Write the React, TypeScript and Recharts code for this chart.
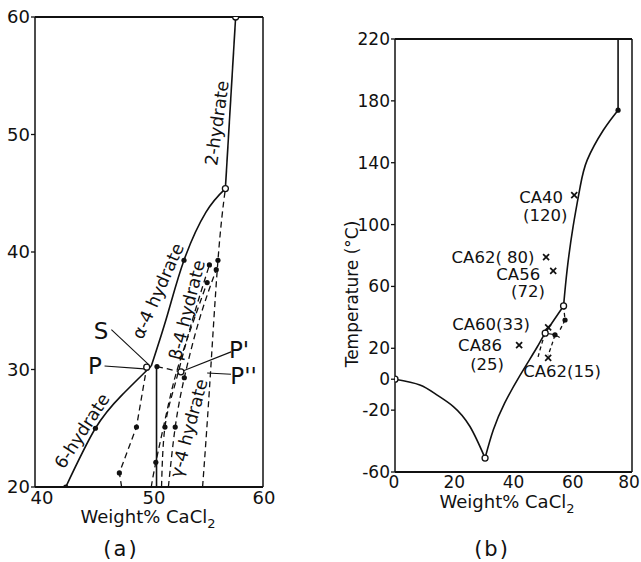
import React from 'react';
import { ComposedChart, Line, Scatter, XAxis, YAxis, ReferenceLine, Label } from 'recharts';

// ---------- Panel (a): 20–60 °C, 40–60 wt% CaCl2 ----------
const aXTicks = [40, 50, 60];
const aYTicks = [20, 30, 40, 50, 60];

const aHexahydrate = [
  { x: 42.7, y: 20 }, { x: 45.3, y: 25 }, { x: 47.6, y: 27.8 }, { x: 50.2, y: 30.3 },
];
const aAlpha4 = [
  { x: 50.2, y: 30.3 }, { x: 51.6, y: 34.6 }, { x: 53.07, y: 39.3 }, { x: 55.0, y: 43.4 },
  { x: 56.7, y: 45.4 },
];
const aDihydrate = [{ x: 56.7, y: 45.4 }, { x: 57.6, y: 60 }];
const aCongruent = [{ x: 50.66, y: 20 }, { x: 50.66, y: 30.3 }];

const aDash1 = [{ x: 47.6, y: 20 }, { x: 47.4, y: 21.2 }, { x: 48.9, y: 25.1 }, { x: 49.8, y: 30.2 }];
const aDashSP = [{ x: 50.7, y: 30.25 }, { x: 52.8, y: 29.8 }];
const aDash2 = [
  { x: 50.2, y: 20 }, { x: 50.6, y: 22.1 }, { x: 51.7, y: 27.0 }, { x: 52.8, y: 31.0 },
  { x: 55.1, y: 37.4 },
];
const aDash3 = [
  { x: 51.1, y: 20 }, { x: 51.4, y: 25.1 }, { x: 52.3, y: 28.8 }, { x: 53.6, y: 33.5 },
  { x: 55.3, y: 38.9 },
];
const aDash4 = [
  { x: 51.7, y: 20 }, { x: 52.3, y: 25.1 }, { x: 53.1, y: 29.3 }, { x: 54.4, y: 34.2 },
  { x: 55.9, y: 38.5 },
];
const aDash5 = [{ x: 54.7, y: 20 }, { x: 55.3, y: 28.3 }, { x: 56.05, y: 39.3 }, { x: 56.7, y: 45.4 }];

const aFilledDots = [
  { x: 42.7, y: 20 }, { x: 45.3, y: 25 }, { x: 47.4, y: 21.2 }, { x: 48.9, y: 25.1 },
  { x: 50.6, y: 22.1 }, { x: 51.4, y: 25.1 }, { x: 52.3, y: 25.1 }, { x: 53.1, y: 29.3 },
  { x: 53.07, y: 39.3 }, { x: 50.7, y: 30.25 }, { x: 55.1, y: 37.4 }, { x: 55.3, y: 38.9 },
  { x: 55.9, y: 38.5 }, { x: 56.05, y: 39.3 },
];
const aOpenDots = [{ x: 49.8, y: 30.2 }, { x: 52.8, y: 29.8 }, { x: 56.7, y: 45.4 }, { x: 57.6, y: 60 }];

const aPhaseLabels = [
  { text: '2-hydrate', x: 55.96, y: 50.98 },
  { text: 'α-4 hydrate', x: 50.79, y: 36.68 },
  { text: 'β-4 hydrate', x: 53.33, y: 35.06 },
  { text: 'γ-4 hydrate', x: 53.5, y: 25.0 },
  { text: '6-hydrate', x: 44.12, y: 24.77 },
];
const aPointLabels = [
  { text: 'S', x: 45.8, y: 33.3 },
  { text: 'P', x: 45.26, y: 30.3 },
  { text: "P'", x: 57.9, y: 31.66 },
  { text: "P''", x: 58.3, y: 29.45 },
];
const aLeaderS = [{ x: 46.7, y: 33.4 }, { x: 50.0, y: 30.4 }];
const aLeaderP = [{ x: 46.1, y: 30.3 }, { x: 49.6, y: 30.05 }];
const aLeaderP1 = [{ x: 57.2, y: 31.5 }, { x: 52.8, y: 29.8 }];
const aLeaderP2 = [{ x: 57.2, y: 29.6 }, { x: 55.1, y: 29.7 }];

// ---------- Panel (b): -60–220 °C, 0–80 wt% CaCl2 ----------
const bXTicks = [0, 20, 40, 60, 80];
const bYTicks = [-60, -20, 0, 20, 60, 100, 140, 180, 220];

const bIce = [
  { x: 0, y: 0 }, { x: 8.4, y: -3.7 }, { x: 14.1, y: -10.1 }, { x: 19.7, y: -17.7 },
  { x: 25.3, y: -30.6 }, { x: 30.4, y: -51 },
];
const bSolubility = [
  { x: 30.4, y: -51 }, { x: 33.2, y: -32.7 }, { x: 37.0, y: -15.5 }, { x: 42.2, y: 2.5 },
  { x: 47.9, y: 20.5 }, { x: 50.7, y: 29.8 }, { x: 56.9, y: 47.4 },
];
const bUpper = [
  { x: 56.9, y: 47.4 }, { x: 58.1, y: 70.7 }, { x: 60.1, y: 98.5 }, { x: 62.5, y: 124.4 },
  { x: 64.9, y: 141.8 }, { x: 70.3, y: 161 }, { x: 75.3, y: 174 },
];
const bVertical = [{ x: 75.3, y: 174 }, { x: 75.3, y: 220 }];
const bShort = [{ x: 50.7, y: 29.8 }, { x: 54.0, y: 28.7 }, { x: 55.6, y: 27 }];
const bDash1 = [{ x: 50.7, y: 29.8 }, { x: 49.4, y: 22 }, { x: 48.3, y: 14.4 }];
const bDash2 = [{ x: 54.0, y: 28.7 }, { x: 52.8, y: 21.5 }, { x: 51.7, y: 15.5 }];
const bDash3 = [{ x: 56.9, y: 47.4 }, { x: 57.4, y: 38.3 }, { x: 55.6, y: 31.5 }];

const bFilledDots = [{ x: 57.4, y: 38.3 }, { x: 75.3, y: 174 }, { x: 54.0, y: 28.7 }];
const bOpenDots = [{ x: 0, y: 0 }, { x: 30.4, y: -51 }, { x: 50.7, y: 29.8 }, { x: 56.9, y: 47.4 }];

const bSamples = [
  { x: 60.5, y: 119 }, { x: 51, y: 79 }, { x: 53.4, y: 70 },
  { x: 51.7, y: 33.5 }, { x: 41.9, y: 22 }, { x: 51.7, y: 13.8 },
];
const bSampleLabels = [
  { text: 'CA40', x: 49.3, y: 117.2 },
  { text: '(120)', x: 50.7, y: 105.6 },
  { text: 'CA62( 80)', x: 33.1, y: 78.4 },
  { text: 'CA56', x: 41.6, y: 67.4 },
  { text: '(72)', x: 44.9, y: 56.5 },
  { text: 'CA60(33)', x: 32.4, y: 35.1 },
  { text: 'CA86', x: 28.7, y: 21.6 },
  { text: '(25)', x: 31.1, y: 9.3 },
  { text: 'CA62(15)', x: 56.4, y: 4.7 },
];

// ---------- drawing ----------
const INK = '#111';
const FONT = '"DejaVu Sans", "Liberation Sans", sans-serif';
const ROTATION: Record<string, number> = {
  '2-hydrate': -82,
  'α-4 hydrate': -66,
  'β-4 hydrate': -76,
  'γ-4 hydrate': -75,
  '6-hydrate': -57,
};

const filledDot = (p: any) => <circle cx={p.cx} cy={p.cy} r={2.6} fill={INK} />;
const openDot = (p: any) => (
  <circle cx={p.cx} cy={p.cy} r={3} fill="#fff" stroke={INK} strokeWidth={1.3} />
);
const crossMark = (p: any) => (
  <g stroke={INK} strokeWidth={1.7}>
    <line x1={p.cx - 3} y1={p.cy - 3} x2={p.cx + 3} y2={p.cy + 3} />
    <line x1={p.cx - 3} y1={p.cy + 3} x2={p.cx + 3} y2={p.cy - 3} />
  </g>
);
const textMark = (size: number) => (p: any) => {
  const angle = ROTATION[p.payload.text] || 0;
  return (
    <text
      x={p.cx}
      y={p.cy}
      fontSize={size}
      fontFamily={FONT}
      fill={INK}
      textAnchor="middle"
      dominantBaseline="central"
      transform={angle ? `rotate(${angle} ${p.cx} ${p.cy})` : undefined}
    >
      {p.payload.text}
    </text>
  );
};

const aXTick = (p: any) => {
  const v = p.payload.value;
  const shift = v === 40 ? 7 : v === 50 ? 5 : 1;
  return (
    <text x={p.x + shift} y={p.y} dy="0.71em" textAnchor="middle" fontSize={18} fontFamily={FONT} fill={INK}>
      {v}
    </text>
  );
};

const bXTick = (p: any) => {
  const v = p.payload.value;
  const shift = v === 80 ? -3 : v === 0 ? -1 : 0;
  return (
    <text x={p.x + shift} y={p.y} dy="0.71em" textAnchor="middle" fontSize={17} fontFamily={FONT} fill={INK}>
      {v}
    </text>
  );
};

const weightTitle = (dx: number, baseline: number, tag: string, tagDx: number, tagBaseline: number) =>
  (props: any) => {
    const vb = props.viewBox || { x: 0, y: 0 };
    return (
      <g fontFamily={FONT} fill={INK}>
        <text x={vb.x + dx} y={vb.y + baseline} textAnchor="middle" fontSize={18}>
          <tspan>Weight%  CaCl</tspan>
          <tspan fontSize={13} dy={5}>2</tspan>
        </text>
        <text x={vb.x + tagDx} y={vb.y + tagBaseline} textAnchor="middle" fontSize={21} letterSpacing={2}>
          {tag}
        </text>
      </g>
    );
  };

const tempTitle = (props: any) => {
  const vb = props.viewBox || { x: 0, y: 0 };
  const cx = vb.x + 7;
  const cy = vb.y + 255;
  return (
    <text
      x={cx}
      y={cy}
      fontSize={17}
      fontFamily={FONT}
      fill={INK}
      textAnchor="middle"
      dominantBaseline="central"
      transform={`rotate(-90 ${cx} ${cy})`}
    >
      Temperature (°C)
    </text>
  );
};

const solid = { stroke: INK, strokeWidth: 1.6, dot: false, activeDot: false, isAnimationActive: false } as const;
const dashed = { ...solid, strokeWidth: 1.3, strokeDasharray: '6 4' } as const;
const thin = { ...solid, strokeWidth: 1.1 } as const;

export default function App() {
  return (
    <div style={{ position: 'absolute', left: 0, top: 0, width: 641, height: 562, background: '#fff' }}>
      <div style={{ position: 'absolute', left: 0, top: 0 }}>
        <ComposedChart width={320} height={562} margin={{ top: 17, right: 57, bottom: 45, left: 0 }}>
          <XAxis
            type="number"
            dataKey="x"
            domain={[40, 60]}
            ticks={aXTicks}
            interval={0}
            allowDataOverflow
            height={30}
            tickLine={false}
            tickSize={1}
            tickMargin={3}
            axisLine={{ stroke: INK, strokeWidth: 2 }}
            tick={aXTick}
          >
            <Label content={weightTitle(113, 36, '(a)', 86, 69)} />
          </XAxis>
          <YAxis
            type="number"
            dataKey="y"
            domain={[20, 60]}
            ticks={aYTicks}
            interval={0}
            allowDataOverflow
            width={35}
            tickSize={4}
            tickMargin={1}
            tickLine={{ stroke: INK, strokeWidth: 1.3 }}
            axisLine={{ stroke: INK, strokeWidth: 1.5 }}
            tick={{ fill: INK, fontSize: 18, fontFamily: FONT }}
          />
          <ReferenceLine y={60} stroke={INK} strokeWidth={2.2} />
          <ReferenceLine x={60} stroke={INK} strokeWidth={1.5} />

          <Line data={aHexahydrate} dataKey="y" type="natural" {...solid} />
          <Line data={aAlpha4} dataKey="y" type="natural" {...solid} />
          <Line data={aDihydrate} dataKey="y" type="linear" {...solid} />
          <Line data={aCongruent} dataKey="y" type="linear" {...solid} />

          <Line data={aDash1} dataKey="y" type="linear" {...dashed} />
          <Line data={aDashSP} dataKey="y" type="linear" {...dashed} />
          <Line data={aDash2} dataKey="y" type="natural" {...dashed} />
          <Line data={aDash3} dataKey="y" type="natural" {...dashed} />
          <Line data={aDash4} dataKey="y" type="natural" {...dashed} />
          <Line data={aDash5} dataKey="y" type="natural" {...dashed} />

          <Line data={aLeaderS} dataKey="y" type="linear" {...thin} />
          <Line data={aLeaderP} dataKey="y" type="linear" {...thin} />
          <Line data={aLeaderP1} dataKey="y" type="linear" {...thin} />
          <Line data={aLeaderP2} dataKey="y" type="linear" {...thin} />

          <Scatter data={aFilledDots} dataKey="y" shape={filledDot} isAnimationActive={false} />
          <Scatter data={aOpenDots} dataKey="y" shape={openDot} isAnimationActive={false} />
          <Scatter data={aPhaseLabels} dataKey="y" shape={textMark(17.5)} isAnimationActive={false} />
          <Scatter data={aPointLabels} dataKey="y" shape={textMark(23)} isAnimationActive={false} />
        </ComposedChart>
      </div>

      <div style={{ position: 'absolute', left: 320, top: 0 }}>
        <ComposedChart width={321} height={562} margin={{ top: 39, right: 9, bottom: 60, left: 25 }}>
          <XAxis
            type="number"
            dataKey="x"
            domain={[0, 80]}
            ticks={bXTicks}
            interval={0}
            allowDataOverflow
            height={30}
            tickLine={false}
            tickSize={0}
            tickMargin={4}
            axisLine={{ stroke: INK, strokeWidth: 2 }}
            tick={bXTick}
          >
            <Label content={weightTitle(112, 36, '(b)', 97, 84)} />
          </XAxis>
          <YAxis
            type="number"
            dataKey="y"
            domain={[-60, 220]}
            ticks={bYTicks}
            interval={0}
            allowDataOverflow
            width={50}
            tickSize={4}
            tickMargin={1}
            tickLine={{ stroke: INK, strokeWidth: 1.3 }}
            axisLine={{ stroke: INK, strokeWidth: 1.5 }}
            tick={{ fill: INK, fontSize: 17, fontFamily: FONT }}
          >
            <Label content={tempTitle} />
          </YAxis>
          <ReferenceLine y={220} stroke={INK} strokeWidth={2} />
          <ReferenceLine x={80} stroke={INK} strokeWidth={1.5} />

          <Line data={bIce} dataKey="y" type="natural" {...solid} />
          <Line data={bSolubility} dataKey="y" type="natural" {...solid} />
          <Line data={bUpper} dataKey="y" type="natural" {...solid} />
          <Line data={bVertical} dataKey="y" type="linear" {...solid} />
          <Line data={bShort} dataKey="y" type="linear" {...thin} />
          <Line data={bDash1} dataKey="y" type="natural" {...dashed} strokeDasharray="4 3" />
          <Line data={bDash2} dataKey="y" type="natural" {...dashed} strokeDasharray="4 3" />
          <Line data={bDash3} dataKey="y" type="linear" {...dashed} strokeDasharray="4 3" />

          <Scatter data={bFilledDots} dataKey="y" shape={filledDot} isAnimationActive={false} />
          <Scatter data={bOpenDots} dataKey="y" shape={openDot} isAnimationActive={false} />
          <Scatter data={bSamples} dataKey="y" shape={crossMark} isAnimationActive={false} />
          <Scatter data={bSampleLabels} dataKey="y" shape={textMark(16.5)} isAnimationActive={false} />
        </ComposedChart>
      </div>
    </div>
  );
}
